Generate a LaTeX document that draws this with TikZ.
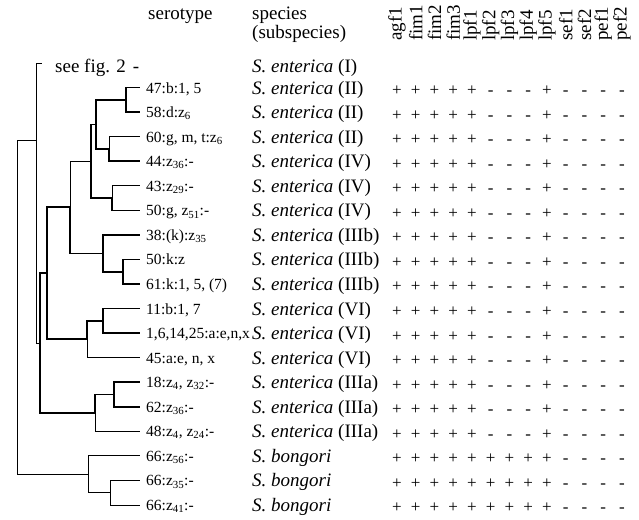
\documentclass[tikz,border=0pt]{standalone}
\usepackage{fontspec}
\setmainfont{Liberation Serif}
\usetikzlibrary{positioning}

\newcommand\serofont{\fontsize{15.5}{18}\selectfont}
\newcommand\bigfont{\fontsize{19}{22}\selectfont}
\newcommand\hitfont{\fontsize{17}{20}\selectfont}
\newcommand\senter{\textit{S. enterica}}
\newcommand\sbong{\textit{S. bongori}}

\begin{document}
\begin{tikzpicture}[x=1pt,y=-1pt,
    branch/.style={line width=1.6pt},
    thinbranch/.style={line width=0.8pt},
    txt/.style={anchor=base west,inner sep=0pt,font=\bigfont},
    sero/.style={anchor=base west,inner sep=0pt,font=\serofont},
    hit/.style={anchor=base,inner sep=0pt,font=\hitfont}]
  \useasboundingbox (0,0) rectangle (639,519);

  % column heads
  \node[txt] (hsero) at (148,20) {serotype};
  \node[txt] (hspec) at (252,20) {species};
  \node[txt] (hsub) at (252,39) {(subspecies)};
  \foreach \g [count=\j from 0] in {agf1,fim1,fim2,fim3,lpf1,lpf2,lpf3,lpf4,lpf5,sef1,sef2,pef1,pef2}
    \node[rotate=90,anchor=west,inner sep=0pt,font=\bigfont] (g\j) at ({397+18.75*\j},41) {\g};

  % first row: the subspecies I branch
  \coordinate (t0) at (42,63);
  \node[txt] (see) at (55,72) {see fig. 2\hspace{7pt}-};
  \node[txt] (p0) at (252,72) {\senter{} (I)};

  % serotypes and species, one row each
  \foreach \i/\sero/\spec in {
      1/{47:b:1, 5}/{\senter{} (II)},
      2/{58:d:z\textsubscript{6}}/{\senter{} (II)},
      3/{60:g, m, t:z\textsubscript{6}}/{\senter{} (II)},
      4/{44:z\textsubscript{36}:-}/{\senter{} (IV)},
      5/{43:z\textsubscript{29}:-}/{\senter{} (IV)},
      6/{50:g, z\textsubscript{51}:-}/{\senter{} (IV)},
      7/{38:(k):z\textsubscript{35}}/{\senter{} (IIIb)},
      8/{50:k:z}/{\senter{} (IIIb)},
      9/{61:k:1, 5, (7)}/{\senter{} (IIIb)},
      10/{11:b:1, 7}/{\senter{} (VI)},
      11/{1,6,14,25:a:e,n,x}/{\senter{} (VI)},
      12/{45:a:e, n, x}/{\senter{} (VI)},
      13/{18:z\textsubscript{4}, z\textsubscript{32}:-}/{\senter{} (IIIa)},
      14/{62:z\textsubscript{36}:-}/{\senter{} (IIIa)},
      15/{48:z\textsubscript{4}, z\textsubscript{24}:-}/{\senter{} (IIIa)},
      16/{66:z\textsubscript{56}:-}/{\sbong},
      17/{66:z\textsubscript{35}:-}/{\sbong},
      18/{66:z\textsubscript{41}:-}/{\sbong}} {
    \pgfmathsetmacro\y{63+24.55*\i}
    \coordinate (t\i) at (140,\y);
    \node[sero] (s\i) at (146,\y+5.5) {\sero};
    \node[txt] (p\i) at (252,\y+6.5) {\spec};
  }

  % fimbrial operons: S. enterica rows, then S. bongori rows
  \foreach \i in {1,...,15}
    \foreach \m [count=\j from 0] in {+,+,+,+,+,-,-,-,+,-,-,-,-}
      \node[hit] (m\i-\j) at ({397+18.75*\j},{63+24.55*\i+8}) {\m};
  \foreach \i in {16,17,18}
    \foreach \m [count=\j from 0] in {+,+,+,+,+,+,+,+,+,-,-,-,-}
      \node[hit] (m\i-\j) at ({397+18.75*\j},{63+24.55*\i+8}) {\m};

  % joints of the tree
  \coordinate (r) at (17,300);
  \coordinate (n36) at (36,140);
  \coordinate (n40) at (40,343);
  \coordinate (n47) at (47,273.2);
  \coordinate (n70) at (70,207.2);
  \coordinate (n91) at (91,161.2);
  \coordinate (n96) at (96,124.4);
  \coordinate (n126) at (126,99.9);
  \coordinate (n109) at (109,148.9);
  \coordinate (n112) at (112,198);
  \coordinate (n103e) at (103,253.3);
  \coordinate (n123) at (123,271.7);
  \coordinate (n87) at (87,339.2);
  \coordinate (n103f) at (103,320.8);
  \coordinate (n95) at (95,412.9);
  \coordinate (n114) at (114,394.5);
  \coordinate (n88) at (88,474.2);
  \coordinate (n110) at (110,492.7);

  % root and the outer branches
  \draw[thinbranch] (r) |- (n36);
  \draw[thinbranch] (r) |- (n88);
  \draw[thinbranch] (n36) |- (t0);
  \draw[thinbranch] (n36) |- (n40);
  % S. enterica II, IV, IIIb, VI, IIIa
  \draw[branch] (n40) |- (n47);
  \draw[branch] (n40) |- (n95);
  \draw[branch] (n47) |- (n70);
  \draw[branch] (n47) |- (n87);
  \draw[thinbranch] (n70) |- (n91);
  \draw[branch] (n70) |- (n103e);
  \draw[branch] (n91) |- (n96);
  \draw[branch] (n91) |- (n112);
  \draw[branch] (n96) |- (n126);
  \draw[branch] (n96) |- (n109);
  \draw[branch] (n126) |- (t1);
  \draw[branch] (n126) |- (t2);
  \draw[thinbranch] (n109) |- (t3);
  \draw[branch] (n109) |- (t4);
  \draw[thinbranch] (n112) |- (t5);
  \draw[branch] (n112) |- (t6);
  \draw[branch] (n103e) |- (t7);
  \draw[branch] (n103e) |- (n123);
  \draw[branch] (n123) |- (t8);
  \draw[branch] (n123) |- (t9);
  \draw[branch] (n87) |- (n103f);
  \draw[thinbranch] (n87) |- (t12);
  \draw[branch] (n103f) |- (t10);
  \draw[branch] (n103f) |- (t11);
  \draw[branch] (n95) |- (n114);
  \draw[thinbranch] (n95) |- (t15);
  \draw[branch] (n114) |- (t13);
  \draw[branch] (n114) |- (t14);
  % S. bongori
  \draw[thinbranch] (n88) |- (t16);
  \draw[thinbranch] (n88) |- (n110);
  \draw[thinbranch] (n110) |- (t17);
  \draw[thinbranch] (n110) |- (t18);
\end{tikzpicture}
\end{document}
